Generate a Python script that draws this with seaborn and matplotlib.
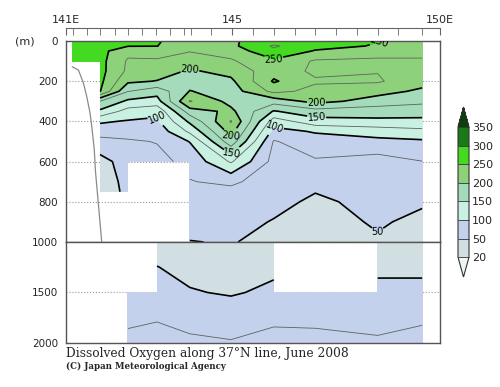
import numpy as np
import matplotlib
matplotlib.use('Agg')
import matplotlib.pyplot as plt
from matplotlib.colors import ListedColormap, BoundaryNorm
import seaborn as sns

sns.set_style('white')
plt.rcParams['font.family'] = ['DejaVu Sans']

nan = np.nan

# station longitudes (deg E)
stations = [141.15, 141.82, 142.49, 143.19, 143.98, 144.97, 146.00, 147.00, 148.50, 149.57]

# upper section 0-1000 m, one profile per station (umol/kg), nan = no data
depth_upper = [0, 25, 50, 100, 150, 200, 250, 300, 350, 400, 450, 500, 600, 700, 750, 800, 900, 1000]
o2_a = [275, 272, 268, 262] + [nan] * 14
o2_b = [262, 260, 258, 258, 258, 256, 251, 175, 145, 103, 88, 65, 42, 37, 35, nan, nan, nan]
o2_c = [256, 251, 232, 222, 220, 205, 176, 145, 115, 98, 85, 72, 60, 57, 56, nan, nan, nan]
o2_d = [252, 250.5, 235, 222, 212, 199, 160, 140, 106, 96, 84, 76, 68, nan, nan, nan, nan, nan]
o2_e = [238, 232, 226, 214, 197, 190, 201, 227, 188, 155, 130, 101, 82, 74, 70, 66, 56, 49.5]
o2_f = [247, 244, 235, 222, 208, 195, 188, 192, 206, 227, 210, 190, 128, 80, 68, 63, 56, 51]
o2_g = [262, 278, 270, 245, 240, 253, 232, 185, 148, 112, 92, 73, 67, 61, 58, 55, 49, 45]
o2_h = [262, 258, 248, 222, 220, 228, 218, 208, 165, 140, 102, 90, 72, 60, 50.5, 47, 43, 41]
o2_i = [251, 248, 232, 222, 224, 228, 208, 190, 160, 145, 110, 94, 64, 58, 56, 55, 52, 48]
o2_j = [240, 238, 232, 222, 215, 208, 196, 180, 162, 143, 118, 96, 74.5, 62, 57, 52, 46, 42]

# lower section 1000-2000 m
depth_lower = [1000, 1250, 1500, 1750, 2000]
low_a = [nan] * 5
low_b = [nan] * 5
low_c = [nan, nan, 62, 72, 79]
low_d = [40, 50.5, 60, 74, 80]
low_e = [38, 44, 51.5, 68, 79]
low_f = [38, 42, 48, 62, 77]
low_g = [40, 46, 54, 71, 82]
low_h = [nan, nan, 56, 70, 82]
low_i = [42, 47, 54, 68, 78]
low_j = [42, 47, 54, 72, 82]

# bottom topography line near the coast
bathy_lon = [141.15, 141.30, 141.42, 141.50, 141.58, 141.63, 141.68, 141.71, 141.77, 141.86]
bathy_depth = [128, 145, 210, 277, 360, 443, 540, 650, 790, 1000]

levels = [20, 50, 100, 150, 200, 250, 300, 350]
band_colors = ['#d2dfe2', '#c3d1ec', '#c9f1e2', '#a3dbbb', '#8dd27b', '#44da22', '#1a7a1a']
under_color = '#eef5f2'
over_color = '#0b3f0b'
thick_levels = [50, 100, 150, 200, 250, 300]
thin_levels = [75, 125, 175, 225, 275]

tick_lons = [141.17, 141.5, 141.83, 142.17, 142.5, 142.83, 143.17, 143.5, 143.83, 144.0,
             144.5, 145.0, 145.5, 146.0, 146.5, 147.0, 147.5, 148.0, 148.5, 149.0, 149.57]

label_pos = [(143.98, 130), (143.19, 373), (144.99, 478), (145.0, 562), (146.0, 95),
             (148.55, 14), (147.03, 327), (147.03, 376), (146.02, 423), (148.48, 955)]

pal = sns.color_palette(band_colors)
cmap = ListedColormap(pal)
cmap.set_under(under_color)
cmap.set_over(over_color)
norm = BoundaryNorm(levels, cmap.N)

Zu = np.ma.masked_invalid(np.column_stack([o2_a, o2_b, o2_c, o2_d, o2_e, o2_f, o2_g, o2_h, o2_i, o2_j]))
Zl = np.ma.masked_invalid(np.column_stack([low_a, low_b, low_c, low_d, low_e, low_f, low_g, low_h, low_i, low_j]))

fig = plt.figure(figsize=(5, 3.87), dpi=100)
ax1 = fig.add_axes([0.132, 0.3747, 0.748, 0.5194])
ax2 = fig.add_axes([0.132, 0.1137, 0.748, 0.261])
cax = fig.add_axes([0.916, 0.2842, 0.022, 0.4393])

frame = '#555555'
for ax, depths, Z in [(ax1, depth_upper, Zu), (ax2, depth_lower, Zl)]:
    cf = ax.contourf(stations, depths, Z, levels=levels, cmap=cmap, norm=norm, extend='both',
                     corner_mask=False, zorder=1)
    ax.contour(stations, depths, Z, levels=thin_levels, colors='#606060', linewidths=0.6,
               corner_mask=False, zorder=2)
    cs = ax.contour(stations, depths, Z, levels=thick_levels, colors='black', linewidths=1.2,
                    corner_mask=False, zorder=2)
    if ax is ax1:
        ax.clabel(cs, fmt='%d', fontsize=7, inline=True, inline_spacing=1, manual=label_pos)
    ax.set_xlim(141, 150)
    for s in ax.spines.values():
        s.set_color(frame)
        s.set_linewidth(1)
    ax.tick_params(axis='x', which='both', bottom=False, top=False, labelbottom=False)
    ax.tick_params(axis='y', direction='out', length=3.5, color=frame, labelsize=7.5, pad=2)
    ax.set_axisbelow(True)
    ax.grid(axis='y', ls=':', color='#999999', lw=0.8)
    ax.grid(axis='x', visible=False)

ax1.set_ylim(1000, 0)
ax1.set_yticks([0, 200, 400, 600, 800, 1000])
ax2.set_ylim(2000, 1000)
ax2.set_yticks([1000, 1500, 2000], labels=['', '1500', '2000'])

ax1.plot(bathy_lon, bathy_depth, color='#8a8a8a', lw=0.9, zorder=3)

# detached top longitude axis
sec = ax1.secondary_xaxis(1 + 13 / 201)
sec.set_xticks([141, 145, 150], labels=['141E', '145', '150E'])
sec.set_xticks(tick_lons, minor=True)
sec.tick_params(which='both', direction='in', length=5, color='#666666', labelsize=8, pad=2)
for s in sec.spines.values():
    s.set_color('#666666')

fig.text(25 / 500, 1 - 41 / 387, '(m)', fontsize=8, ha='center', va='center')

cb = fig.colorbar(cf, cax=cax, ticks=levels, extendfrac=0.153, drawedges=True)
cb.outline.set_edgecolor('#333333')
cb.outline.set_linewidth(0.8)
cb.dividers.set_color('#333333')
cb.dividers.set_linewidth(0.6)
cax.tick_params(length=0, labelsize=8, pad=2)

fig.text(66 / 500, 1 - 353 / 387, 'Dissolved Oxygen along 37\u00b0N line, June 2008',
         family='DejaVu Serif', fontsize=8.8, va='center')
fig.text(66 / 500, 1 - 366 / 387, '(C) Japan Meteorological Agency',
         family='DejaVu Serif', fontsize=6.2, fontweight='bold', va='center')

fig.savefig('out.png', dpi=100)
